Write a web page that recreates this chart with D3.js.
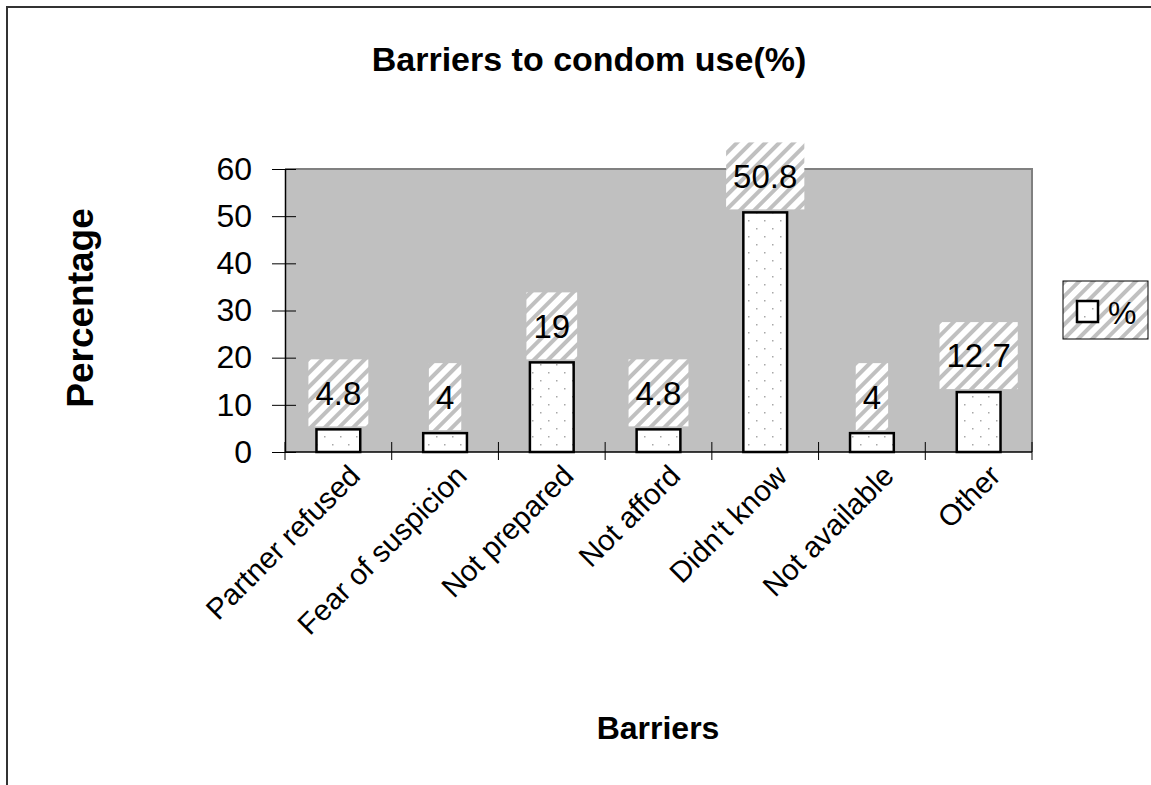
<!DOCTYPE html>
<html>
<head>
<meta charset="utf-8">
<script src="https://cdn.jsdelivr.net/npm/d3@7"></script>
<style>
  html, body { margin: 0; padding: 0; background: #fff; }
  svg { display: block; font-family: Arial, "Liberation Sans", sans-serif; }
</style>
</head>
<body>
<svg id="chart" width="1151" height="785"></svg>
<script>
// Barriers to condom use, percentage of respondents
const categories = ["Partner refused", "Fear of suspicion", "Not prepared", "Not afford", "Didn't know", "Not available", "Other"];
const values = [4.8, 4, 19, 4.8, 50.8, 4, 12.7];
const valueLabels = ["4.8", "4", "19", "4.8", "50.8", "4", "12.7"];
const yTicks = [0, 10, 20, 30, 40, 50, 60];
const seriesName = "%";

const svg = d3.select("#chart");
const W = 1151, H = 785;
const plot = { left: 285, top: 169, right: 1032, bottom: 452 };

// Patterns: diagonal hatch for label boxes/legend, sparse dots for bars
const defs = svg.append("defs");
const hatch = defs.append("pattern")
  .attr("id", "hatch").attr("patternUnits", "userSpaceOnUse")
  .attr("width", 10).attr("height", 10)
  .attr("patternTransform", "rotate(45)");
hatch.append("rect").attr("width", 10).attr("height", 10).attr("fill", "#ffffff");
hatch.append("rect").attr("width", 4).attr("height", 10).attr("fill", "#c0c0c0");

const dots = defs.append("pattern")
  .attr("id", "dots").attr("patternUnits", "userSpaceOnUse")
  .attr("width", 16).attr("height", 16);
dots.append("rect").attr("width", 16).attr("height", 16).attr("fill", "#ffffff");
dots.append("rect").attr("x", 4).attr("y", 4).attr("width", 1.5).attr("height", 1.5).attr("fill", "#a8a8a8");
dots.append("rect").attr("x", 12).attr("y", 12).attr("width", 1.5).attr("height", 1.5).attr("fill", "#a8a8a8");

// Outer chart frame (top and left edges visible)
svg.append("path")
  .attr("d", `M7,${H} L7,7 L${W},7`)
  .attr("fill", "none").attr("stroke", "#333").attr("stroke-width", 2);

// Scales
const x = d3.scaleBand().domain(categories).range([plot.left, plot.right]).paddingInner(0.59).paddingOuter(0.295);
const xOuter = d3.scaleBand().domain(categories).range([plot.left, plot.right]);
const y = d3.scaleLinear().domain([0, 60]).range([plot.bottom, plot.top]);

// Plot area background
svg.append("rect")
  .attr("x", plot.left).attr("y", plot.top)
  .attr("width", plot.right - plot.left).attr("height", plot.bottom - plot.top)
  .attr("fill", "#c0c0c0");
svg.append("path")
  .attr("d", `M${plot.left},${plot.top} L${plot.right},${plot.top} L${plot.right},${plot.bottom}`)
  .attr("fill", "none").attr("stroke", "#808080").attr("stroke-width", 2);

// Y axis
const yAxis = d3.axisLeft(y).tickValues(yTicks).tickSizeInner(0).tickSizeOuter(0).tickPadding(33);
const gy = svg.append("g").attr("transform", `translate(${plot.left},0)`).call(yAxis);
gy.select(".domain").attr("stroke", "#000").attr("stroke-width", 1.5);
gy.selectAll(".tick line").attr("x1", -13).attr("x2", 11).attr("stroke", "#000");
gy.selectAll(".tick text").attr("font-size", 32).attr("fill", "#000")
  .attr("font-family", "Arial, 'Liberation Sans', sans-serif");

// X axis: ticks at category boundaries
const boundaries = categories.map(c => xOuter(c)).concat([plot.right]);
svg.append("line")
  .attr("x1", plot.left).attr("x2", plot.right)
  .attr("y1", plot.bottom).attr("y2", plot.bottom)
  .attr("stroke", "#000").attr("stroke-width", 1.5);
svg.selectAll(".xtick").data(boundaries).join("line")
  .attr("class", "xtick")
  .attr("x1", d => d).attr("x2", d => d)
  .attr("y1", plot.bottom - 10).attr("y2", plot.bottom + 8)
  .attr("stroke", "#000");

svg.selectAll(".xlabel").data(categories).join("text")
  .attr("class", "xlabel")
  .attr("transform", d => `translate(${xOuter(d) + xOuter.bandwidth() / 2 + 9},${plot.bottom + 11}) rotate(-45)`)
  .attr("text-anchor", "end")
  .attr("dy", "0.7em")
  .attr("font-size", 29.5)
  .attr("fill", "#000")
  .text(d => d);

// Bars
svg.selectAll(".bar").data(values).join("rect")
  .attr("class", "bar")
  .attr("x", (d, i) => x(categories[i]))
  .attr("y", d => y(d))
  .attr("width", x.bandwidth())
  .attr("height", d => plot.bottom - y(d))
  .attr("fill", "url(#dots)")
  .attr("stroke", "#000").attr("stroke-width", 2.5);

// Value labels on hatched boxes above bars
const labelG = svg.selectAll(".vlabel").data(values).join("g").attr("class", "vlabel");
labelG.each(function (d, i) {
  const g = d3.select(this);
  const cx = xOuter(categories[i]) + xOuter.bandwidth() / 2;
  const boxH = 67;
  const boxBottom = y(d) - 3;
  const t = g.append("text")
    .attr("x", cx).attr("y", boxBottom - boxH / 2)
    .attr("text-anchor", "middle").attr("dy", "0.36em")
    .attr("font-size", 33).attr("fill", "#000")
    .text(valueLabels[i]);
  const tw = t.node().getComputedTextLength();
  g.insert("rect", "text")
    .attr("x", cx - tw / 2 - 7).attr("y", boxBottom - boxH)
    .attr("width", tw + 14).attr("height", boxH)
    .attr("fill", "url(#hatch)");
});

// Legend
const lg = svg.append("g");
lg.append("rect").attr("x", 1063).attr("y", 281).attr("width", 85).attr("height", 58)
  .attr("fill", "url(#hatch)").attr("stroke", "#000").attr("stroke-width", 1);
lg.append("rect").attr("x", 1077).attr("y", 301).attr("width", 21).attr("height", 21)
  .attr("fill", "url(#dots)").attr("stroke", "#000").attr("stroke-width", 2.5);
lg.append("text").attr("x", 1108).attr("y", 312).attr("dy", "0.36em")
  .attr("font-size", 32).attr("fill", "#000").text(seriesName);

// Titles
svg.append("text").attr("x", 589).attr("y", 71).attr("text-anchor", "middle")
  .attr("font-size", 34).attr("font-weight", "bold").attr("fill", "#000")
  .text("Barriers to condom use(%)");
svg.append("text").attr("transform", `translate(93,308) rotate(-90)`).attr("text-anchor", "middle")
  .attr("font-size", 37).attr("font-weight", "bold").attr("fill", "#000")
  .text("Percentage");
svg.append("text").attr("x", 658).attr("y", 739).attr("text-anchor", "middle")
  .attr("font-size", 32).attr("font-weight", "bold").attr("fill", "#000")
  .text("Barriers");
</script>
</body>
</html>
